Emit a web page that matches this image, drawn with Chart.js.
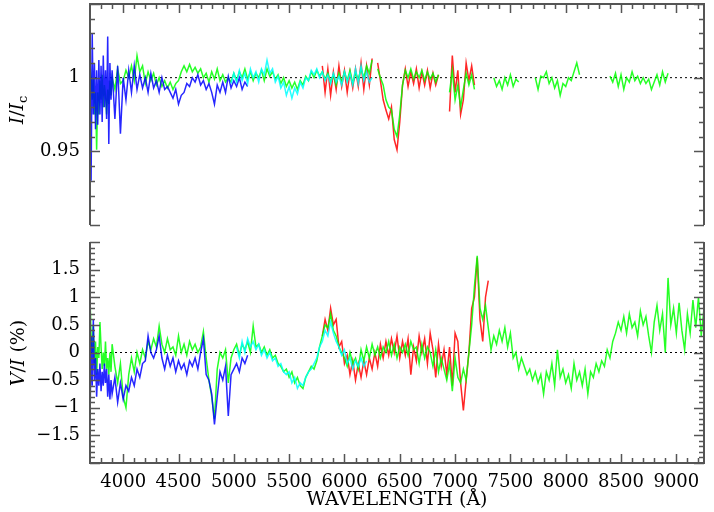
<!DOCTYPE html>
<html>
<head>
<meta charset="utf-8">
<script src="https://cdn.jsdelivr.net/npm/chart.js@4.4.0/dist/chart.umd.min.js"></script>
<style>
  html, body { margin: 0; padding: 0; background: #fff; }
  #wrap { position: relative; width: 714px; height: 512px; overflow: hidden; }
  #topBox { position: absolute; left: 0; top: 0; width: 714px; height: 232px; }
  #botBox { position: absolute; left: 0; top: 232px; width: 714px; height: 280px; }
  .ytitle {
    position: absolute; font-family: 'DejaVu Serif', serif; font-size: 19px; color: #000;
    transform: translate(-50%, -50%) rotate(-90deg); white-space: nowrap; line-height: 1;
  }
  .ytitle sub { font-size: 13px; font-style: normal; vertical-align: -4px; }
</style>
</head>
<body>
<div id="wrap">
  <div id="topBox"><canvas id="topChart" width="714" height="232"></canvas></div>
  <div id="botBox"><canvas id="botChart" width="714" height="280"></canvas></div>
  <div class="ytitle" style="left:18px; top:110px;"><i>I</i>/<i>I</i><sub>c</sub></div>
  <div class="ytitle" style="left:17px; top:353px;"><i>V</i>/<i>I</i> (%)</div>
</div>
<script>
// ---- data ----
// blue spectrum
const blueWave = [
  3700,3710,3720,3730,3740,3750,3760,3770,3780,3790,
  3800,3810,3820,3830,3840,3850,3860,3870,3880,3890,
  3900,3925,3950,3975,4000,4025,4050,4075,4100,4125,
  4150,4175,4200,4225,4250,4275,4300,4325,4350,4375,
  4400,4425,4450,4475,4500,4525,4550,4575,4600,4625,
  4650,4675,4700,4725,4750,4775,4800,4825,4850,4875,
  4900,4925,4950,4975,5000,5025,5050,5075,5100,5125
];
const blueTop = [
  1.035,0.93,1.03,0.975,1.01,0.965,1.005,0.968,1.012,0.975,
  1.008,0.97,1.015,0.98,1.005,0.972,1.028,0.955,1.01,0.985,
  1.005,0.972,1.008,0.962,1.0,0.985,1.005,0.99,1.008,0.992,
  1.002,0.993,1.0,0.99,1.003,0.993,0.998,0.99,1.0,0.992,
  0.994,0.99,0.986,0.992,0.982,0.988,0.99,0.996,0.994,1.0,
  0.997,1.002,0.995,0.998,0.992,0.996,0.99,0.982,0.995,0.99,
  0.997,0.99,1.001,0.993,0.998,0.994,1.0,0.992,0.997,0.994
];
const blueV = [
  -1.3,0.3,-0.6,0.6,-0.5,-0.1,-0.8,-0.3,-0.6,-0.2,
  -0.7,-0.35,-0.6,-0.2,-0.55,-0.3,-0.8,-0.4,-0.85,-0.5,
  -0.75,-0.45,-0.9,-0.55,-0.85,-0.6,-0.7,-0.45,-0.6,-0.3,
  -0.45,-0.2,-0.15,0.3,0.0,-0.1,0.05,0.3,-0.1,-0.3,
  -0.05,-0.25,-0.1,-0.35,-0.15,-0.3,-0.2,-0.4,-0.15,-0.25,
  -0.1,-0.3,0.0,0.25,-0.4,-0.5,-0.75,-1.3,-0.8,-0.35,
  -0.5,-0.25,-1.15,-0.4,-0.3,-0.2,-0.35,-0.1,-0.2,-0.05
];

// green spectrum
const greenWave = [
  3700,3710,3720,3730,3740,3750,3760,3770,3780,3790,
  3800,3810,3820,3830,3840,3850,3860,3870,3880,3890,
  3900,3925,3950,3975,4000,4025,4050,4075,4100,4125,
  4150,4175,4200,4225,4250,4275,4300,4325,4350,4375,
  4400,4425,4450,4475,4500,4525,4550,4575,4600,4625,
  4650,4675,4700,4725,4750,4775,4800,4825,4850,4875,
  4900,4925,4950,4975,5000,5025,5050,5075,5100,5125,
  5150,5175,5200,5225,5250,5275,5300,5325,5350,5375,
  5400,5425,5450,5475,5500,5525,5550,5575,5600,5625,
  5650,5675,5700,5725,5750,5775,5800,5825,5850,5875,
  5900,5925,5950,5975,6000,6025,6050,6075,6100,6125,
  6150,6175,6200,6225,6250,6275,6300,6325,6350,6375,
  6400,6425,6450,6475,6500,6525,6550,6575,6600,6625,
  6650,6675,6700,6725,6750,6775,6800,6825,6850,6875,
  6900,6925,6950,6975,7000,7025,7050,7075,7100,7125,
  7150,7175,7200,7225,7250,7275,7300,7325,7350,7375,
  7400,7425,7450,7475,7500,7525,7550,7575,7600,7625,
  7650,7675,7700,7725,7750,7775,7800,7825,7850,7875,
  7900,7925,7950,7975,8000,8025,8050,8075,8100,8125,
  8150,8175,8200,8225,8250,8275,8300,8325,8350,8375,
  8400,8425,8450,8475,8500,8525,8550,8575,8600,8625,
  8650,8675,8700,8725,8750,8775,8800,8825,8850,8875,
  8900,8925,8950,8975,9000,9025,9050,9075,9100,9125,
  9150,9175,9200,9225,9250
];
const greenTop = [
  1.008,1.0,0.985,1.0,0.975,0.99,0.951,0.99,0.975,0.998,
  0.985,1.002,0.98,0.995,0.988,0.975,0.992,0.982,0.998,0.988,
  1.0,0.992,1.006,0.996,0.998,1.005,1.0,1.008,0.998,1.015,
  1.004,1.008,0.996,1.004,0.998,1.003,0.995,1.0,0.994,0.998,
  0.993,0.997,0.992,0.996,0.998,1.004,1.008,1.004,1.009,1.004,
  1.007,1.003,1.006,1.0,1.003,0.997,1.004,0.999,1.006,0.998,
  1.002,0.997,1.0,0.997,1.003,0.998,1.004,1.0,1.006,0.999,
  1.004,0.998,1.003,1.0,1.005,0.998,1.006,1.001,1.004,0.999,
  1.002,0.996,1.0,0.994,0.998,0.993,0.997,0.992,0.998,0.995,
  1.001,0.998,1.004,1.0,1.005,1.001,1.004,0.999,1.003,0.997,
  1.002,0.995,1.003,0.997,1.004,0.998,1.005,0.996,1.003,0.999,
  1.006,1.0,1.008,1.003,1.012,null,1.006,1.0,0.995,0.985,
  0.98,0.978,0.965,0.96,0.975,0.995,1.005,1.0,1.006,0.999,
  1.004,1.0,1.005,0.998,1.004,0.999,1.003,0.997,1.002,null,
  null,null,0.99,1.005,0.985,0.995,0.98,0.992,1.003,0.995,
  1.002,0.992,null,null,null,null,null,null,1.0,0.994,
  0.998,0.992,1.0,0.995,1.002,0.994,0.999,0.997,null,null,
  null,null,null,1.0,0.992,1.001,1.0,1.004,0.996,1.0,
  0.993,0.998,0.988,0.996,0.994,1.0,0.998,1.004,1.01,1.002,
  null,null,null,null,null,null,null,null,null,null,
  1.001,0.997,1.003,0.994,1.002,0.992,1.0,0.997,1.004,0.998,
  1.001,0.996,1.0,0.996,0.999,0.992,0.997,1.002,0.995,1.004,
  0.997,1.003,null,null,null,null,null,null,null,null,
  null,null,null,null,null
];
const greenV = [
  1.0,0.3,0.0,0.5,-0.2,0.2,-0.4,0.1,-0.1,0.55,
  0.1,-0.3,0.0,-0.25,0.2,-0.3,-0.1,-0.4,0.0,-0.35,
  0.15,-0.25,-0.55,-0.2,-0.8,-1.0,-0.4,-0.1,-0.35,0.0,
  -0.2,0.05,-0.1,0.2,0.05,0.25,0.1,0.48,0.15,0.0,
  0.25,0.05,0.1,-0.05,0.3,0.0,0.15,-0.05,0.2,0.05,
  0.15,0.0,0.1,0.38,-0.1,-0.5,-0.8,-1.2,-0.3,0.0,
  -0.1,0.05,-0.55,-0.1,0.05,0.15,-0.05,0.15,0.05,0.2,
  0.0,0.48,0.1,0.15,0.0,0.1,-0.05,0.05,-0.1,-0.05,
  -0.2,-0.25,-0.35,-0.3,-0.45,-0.35,-0.55,-0.45,-0.6,-0.65,
  -0.45,-0.35,-0.25,-0.3,-0.15,0.1,0.3,0.5,0.45,0.7,
  0.4,0.3,0.1,0.0,-0.1,-0.25,0.0,-0.2,-0.1,-0.3,
  0.05,-0.15,0.1,-0.1,0.15,-0.05,0.1,-0.1,0.1,0.0,
  0.2,-0.05,0.15,-0.1,0.1,0.0,0.15,-0.05,0.2,0.05,
  0.1,-0.2,0.15,-0.1,0.1,0.0,-0.25,0.05,-0.35,-0.1,
  -0.3,-0.5,-0.2,-0.7,-0.1,-0.45,-0.55,-0.3,-0.5,0.0,
  0.5,1.2,1.75,0.8,0.6,0.85,0.45,0.05,0.3,0.15,
  0.4,0.2,0.45,0.1,0.35,-0.1,0.0,-0.3,-0.1,-0.25,
  -0.4,-0.3,-0.5,-0.35,-0.55,-0.4,-0.75,-0.35,-0.5,-0.2,
  -0.6,0.05,-0.45,-0.3,-0.55,-0.4,-0.65,-0.2,-0.5,-0.35,
  -0.6,-0.3,-0.75,-0.35,-0.45,-0.2,-0.35,-0.15,-0.25,0.05,
  -0.1,0.2,0.35,0.55,0.4,0.65,0.35,0.7,0.45,0.55,
  0.3,0.75,0.5,0.65,0.3,0.0,0.55,0.85,0.4,0.7,
  0.0,1.35,0.5,0.8,0.35,0.9,0.4,0.05,0.7,0.35,
  0.95,0.45,1.0,0.3,0.8
];

// cyan spectrum
const cyanWave = [
  4975,5000,5025,5050,5075,5100,5125,5150,5175,5200,
  5225,5250,5275,5300,5325,5350,5375,5400,5425,5450,
  5475,5500,5525,5550,5575,5600,5625,5650,5675,5700,
  5725,5750,5775,5800,5825,5850,5875,5900,5925,5950,
  5975,6000,6025,6050,6075,6100,6125,6150,6175,6200,
  6225,6250
];
const cyanTop = [
  0.996,1.003,0.997,1.005,0.998,1.003,0.996,1.006,1.0,1.004,
  0.997,1.006,1.002,1.012,1.003,1.006,0.997,1.001,0.993,0.997,
  0.988,0.994,0.986,0.993,0.989,0.997,0.993,1.0,0.998,1.005,
  1.002,1.006,1.0,1.004,0.998,1.002,0.996,1.003,0.997,1.001,
  0.995,1.004,0.997,1.003,0.995,1.006,0.996,1.008,0.998,1.004,
  0.997,1.0
];
const cyanV = [
  null,null,0.1,-0.1,0.2,0.0,0.25,0.1,0.2,0.05,
  0.15,-0.05,0.05,-0.1,0.0,-0.15,-0.1,-0.25,-0.2,-0.35,
  -0.4,-0.35,-0.55,-0.45,-0.65,-0.55,-0.6,-0.45,-0.35,-0.3,
  -0.2,-0.1,0.1,0.2,0.4,0.3,0.55,0.35,0.2,0.1,
  -0.05,0.05,-0.2,-0.1,-0.3,-0.15,-0.25,-0.1,-0.25,-0.15,
  null,null
];

// red spectrum
const redWave = [
  5800,5825,5850,5875,5900,5925,5950,5975,6000,6025,
  6050,6075,6100,6125,6150,6175,6200,6225,6250,6275,
  6300,6325,6350,6375,6400,6425,6450,6475,6500,6525,
  6550,6575,6600,6625,6650,6675,6700,6725,6750,6775,
  6800,6825,6850,6875,6900,6925,6950,6975,7000,7025,
  7050,7075,7100,7125,7150,7175,7200,7225,7250,7275,
  7300
];
const redTop = [
  1.008,0.99,1.006,0.988,1.004,0.992,1.008,0.994,1.005,0.99,
  1.004,0.993,1.006,0.994,1.01,0.992,1.008,0.995,1.013,null,
  1.01,0.998,0.985,0.978,0.972,0.98,0.958,0.951,0.97,0.995,
  1.006,0.994,1.004,0.996,1.006,0.993,1.004,0.995,1.005,0.993,
  1.003,0.995,1.002,null,null,null,0.977,1.015,0.99,1.005,
  0.975,0.985,1.01,0.998,1.008,0.995,null,null,null,null,
  null
];
const redV = [
  0.3,0.6,0.4,0.8,0.5,0.6,0.1,0.2,-0.2,-0.05,
  -0.4,-0.15,-0.5,-0.2,-0.45,-0.15,-0.4,-0.1,-0.3,0.0,
  -0.25,0.15,-0.1,0.2,-0.05,0.25,0.0,0.3,-0.1,0.2,
  -0.05,0.25,-0.4,0.1,-0.15,0.3,0.0,0.25,-0.2,0.35,
  0.05,-0.45,0.15,-0.25,0.05,-0.4,0.1,-0.6,0.35,0.2,
  -0.55,-1.05,-0.5,0.0,0.8,1.0,1.72,0.6,0.2,1.0,
  1.3
];

// reference levels and axes
const refWave = [3700, 9250];
const refTop = [1, 1];
const refV = [0, 0];
const xTickVals = [4000, 4500, 5000, 5500, 6000, 6500, 7000, 7500, 8000, 8500, 9000];
const xTickLabels = ['4000', '4500', '5000', '5500', '6000', '6500', '7000', '7500', '8000', '8500', '9000'];
const topTickVals = [0.95, 1];
const topTickLabels = ['0.95', '1'];
const vTickVals = [-1.5, -1, -0.5, 0, 0.5, 1, 1.5];
const vTickLabels = ['\u22121.5', '\u22121', '\u22120.5', '0', '0.5', '1', '1.5'];

// ---- chart setup ----
Chart.defaults.font.family = "'DejaVu Serif', serif";
Chart.defaults.font.size = 18;
Chart.defaults.color = '#000';

function pts(wave, vals) {
  return wave.map((w, i) => ({ x: w, y: vals[i] }));
}

function series(wave, vals, color, order) {
  return {
    data: pts(wave, vals),
    borderColor: color,
    borderWidth: 1.5,
    pointRadius: 0,
    tension: 0,
    spanGaps: false,
    order: order
  };
}

function refLine(vals) {
  return {
    data: pts(refWave, vals),
    borderColor: '#000',
    borderWidth: 1,
    borderDash: [2, 3],
    pointRadius: 0,
    order: 9
  };
}

// inward ticks and frame, like the original plot
const frame = {
  id: 'frame',
  afterDraw(chart, args, opts) {
    const { ctx, chartArea: a, scales } = chart;
    const x = scales.x, y = scales.y;
    const onTop = opts.edge === 'top';
    ctx.save();
    ctx.strokeStyle = '#555';
    ctx.lineWidth = 2;
    ctx.beginPath();
    ctx.moveTo(a.left, a.top); ctx.lineTo(a.left, a.bottom);
    ctx.moveTo(a.right, a.top); ctx.lineTo(a.right, a.bottom);
    const ey = onTop ? a.top : a.bottom;
    ctx.moveTo(a.left - 1, ey); ctx.lineTo(a.right + 1, ey);
    ctx.stroke();

    ctx.lineWidth = 1.5;
    ctx.beginPath();
    for (let w = 3800; w < 9250; w += 100) {
      const px = Math.round(x.getPixelForValue(w)) + 0.5;
      const len = w % 500 === 0 ? 9 : 5;
      if (onTop) { ctx.moveTo(px, a.top); ctx.lineTo(px, a.top + len); }
      else { ctx.moveTo(px, a.bottom); ctx.lineTo(px, a.bottom - len); }
    }
    for (let k = opts.kMin; k <= opts.kMax; k++) {
      const py = Math.round(y.getPixelForValue(k / opts.div)) + 0.5;
      if (py < a.top - 1 || py > a.bottom + 1) continue;
      const len = k % 5 === 0 ? 10 : 5;
      ctx.moveTo(a.left, py); ctx.lineTo(a.left + len, py);
      ctx.moveTo(a.right, py); ctx.lineTo(a.right - len, py);
    }
    ctx.stroke();
    ctx.restore();
  }
};

const alpha = 0.85;
const cBlue = `rgba(0,0,255,${alpha})`;
const cGreen = `rgba(0,255,0,${alpha})`;
const cCyan = `rgba(0,255,255,${alpha})`;
const cRed = `rgba(255,0,0,${alpha})`;

const yAxisBase = {
  grid: { display: false, drawTicks: false },
  border: { display: false },
  afterFit(scale) {
    scale.width = 90;
    scale.paddingTop = 0;
    scale.paddingBottom = 0;
  }
};

new Chart(document.getElementById('topChart'), {
  type: 'line',
  data: {
    datasets: [
      refLine(refTop),
      series(redWave, redTop, cRed, 4),
      series(greenWave, greenTop, cGreen, 3),
      series(blueWave, blueTop, cBlue, 2),
      series(cyanWave, cyanTop, cCyan, 1)
    ]
  },
  options: {
    responsive: false,
    animation: false,
    layout: { padding: { top: 4, bottom: 7, left: 0, right: 10 } },
    plugins: {
      legend: { display: false },
      tooltip: { enabled: false },
      frame: { edge: 'top', kMin: 90, kMax: 105, div: 100 }
    },
    scales: {
      x: { type: 'linear', min: 3700, max: 9250, display: false },
      y: Object.assign({}, yAxisBase, {
        min: 0.9, max: 1.05,
        afterBuildTicks(scale) { scale.ticks = topTickVals.map(v => ({ value: v })); },
        ticks: { padding: 10, callback: (v, i) => topTickLabels[i] }
      })
    }
  },
  plugins: [frame]
});

new Chart(document.getElementById('botChart'), {
  type: 'line',
  data: {
    datasets: [
      refLine(refV),
      series(redWave, redV, cRed, 4),
      series(greenWave, greenV, cGreen, 3),
      series(blueWave, blueV, cBlue, 2),
      series(cyanWave, cyanV, cCyan, 1)
    ]
  },
  options: {
    responsive: false,
    animation: false,
    layout: { padding: { top: 10, bottom: 0, left: 0, right: 10 } },
    plugins: {
      legend: { display: false },
      tooltip: { enabled: false },
      frame: { edge: 'bottom', kMin: -20, kMax: 20, div: 10 }
    },
    scales: {
      x: {
        type: 'linear', min: 3700, max: 9250,
        grid: { display: false, drawTicks: false },
        border: { display: false },
        afterBuildTicks(scale) { scale.ticks = xTickVals.map(v => ({ value: v })); },
        ticks: { padding: 9, maxRotation: 0, autoSkip: false, callback: (v, i) => xTickLabels[i] },
        title: { display: true, text: 'WAVELENGTH (\u00c5)', font: { size: 19 }, padding: { top: 0, bottom: 1 } },
        afterFit(scale) {
          scale.height = 49;
          scale.paddingLeft = 0;
          scale.paddingRight = 0;
        }
      },
      y: Object.assign({}, yAxisBase, {
        min: -2, max: 2,
        afterBuildTicks(scale) { scale.ticks = vTickVals.map(v => ({ value: v })); },
        ticks: { padding: 10, callback: (v, i) => vTickLabels[i] }
      })
    }
  },
  plugins: [frame]
});
</script>
</body>
</html>
